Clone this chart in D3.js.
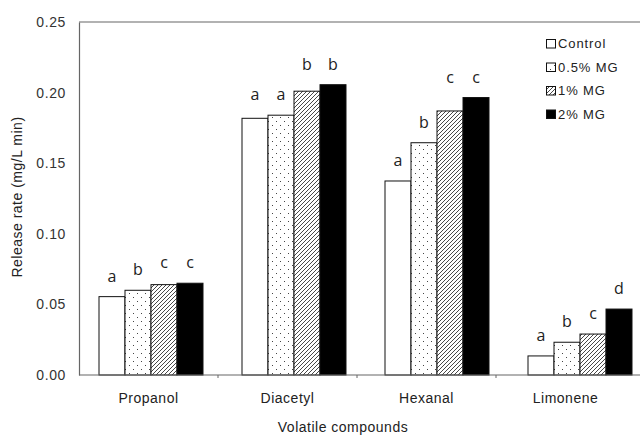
<!DOCTYPE html>
<html><head><meta charset="utf-8">
<script src="https://cdn.jsdelivr.net/npm/d3@7/dist/d3.min.js"></script>
<style>body{margin:0;background:#fff}svg{display:block}</style>
</head><body><svg id="c" width="640" height="436"></svg>
<script>
const categories = ["Propanol", "Diacetyl", "Hexanal", "Limonene"];
const seriesNames = ["Control", "0.5% MG", "1% MG", "2% MG"];
const control = [0.0555, 0.1818, 0.1374, 0.0135];
const mg05    = [0.0600, 0.1840, 0.1645, 0.0232];
const mg1     = [0.0640, 0.2010, 0.1870, 0.0290];
const mg2     = [0.0650, 0.2056, 0.1965, 0.0467];
const letters = [["a","b","c","c"],["a","a","b","b"],["a","b","c","c"],["a","b","c","d"]];
const yTicks = [0, 0.05, 0.10, 0.15, 0.20, 0.25];
const series = [control, mg05, mg1, mg2];

const svg = d3.select("#c");
const FONT = "Liberation Sans, Arial, sans-serif";
const L = 79, R = 635, T = 22, B = 375;
const y = d3.scaleLinear().domain([0, 0.25]).range([B, T]);
const xAxisScale = d3.scaleBand().domain(categories).range([L, R]);
const inner = 39/143;
const xGroup = d3.scaleBand().domain(categories).range([79.5, 79.5 + 4*143]).paddingInner(inner).paddingOuter(inner/2);
const xSub = d3.scaleBand().domain(seriesNames).range([0, xGroup.bandwidth()]);

const defs = svg.append("defs");
const dots = defs.append("pattern").attr("id","dots").attr("patternUnits","userSpaceOnUse").attr("width",8).attr("height",8);
dots.append("rect").attr("width",8).attr("height",8).attr("fill","#fff");
dots.append("rect").attr("x",2).attr("y",1).attr("width",1).attr("height",1).attr("fill","#444");
dots.append("rect").attr("x",6).attr("y",5).attr("width",1).attr("height",1).attr("fill","#444");
const hatch = defs.append("pattern").attr("id","hatch").attr("patternUnits","userSpaceOnUse").attr("width",4).attr("height",4);
hatch.append("rect").attr("width",4).attr("height",4).attr("fill","#fff");
hatch.append("path").attr("d","M-1,1 l2,-2 M0,4 l4,-4 M3,5 l2,-2").attr("stroke","#333").attr("stroke-width",0.9);
const fills = ["#fff", "url(#dots)", "url(#hatch)", "#000"];

// frame top line
svg.append("line").attr("x1",L).attr("x2",640).attr("y1",T).attr("y2",T).attr("stroke","#666").attr("stroke-width",1.2);

// y axis
const yAxis = d3.axisLeft(y).tickValues(yTicks).tickFormat(d3.format(".2f")).tickSize(0).tickPadding(13);
const ya = svg.append("g").attr("transform",`translate(${L},0)`).call(yAxis);
ya.select(".domain").attr("stroke","#666").attr("stroke-width",1.2);
ya.selectAll("text").attr("font-family",FONT).attr("font-size",14).attr("letter-spacing",0.6).attr("fill","#333");

// bars
categories.forEach((cat, ci) => {
  const g = svg.append("g").attr("transform",`translate(${xGroup(cat)},0)`);
  seriesNames.forEach((s, si) => {
    const v = series[si][ci];
    g.append("rect").attr("x", xSub(s)).attr("y", y(v)).attr("width", xSub.bandwidth()).attr("height", B - y(v))
      .attr("fill", fills[si]).attr("stroke","#111").attr("stroke-width",1);
    // letters shared within a group sit at the level of the tallest bar carrying that letter
    const lv = d3.max(seriesNames.map((_, k) => letters[ci][k] === letters[ci][si] ? series[k][ci] : 0));
    g.append("text").attr("x", xSub(s) + xSub.bandwidth()/2).attr("y", y(lv) - 15)
      .attr("text-anchor","middle").attr("font-family","Open Sans, sans-serif").attr("font-size",16).attr("fill","#222").text(letters[ci][si]);
  });
});

// x axis
const xAxis = d3.axisBottom(xAxisScale).tickSize(0).tickPadding(18);
const xa = svg.append("g").attr("transform",`translate(0,${B})`).call(xAxis);
xa.select(".domain").remove();
xa.append("line").attr("x1",L).attr("x2",640).attr("stroke","#666").attr("stroke-width",1.2);
xa.selectAll(".bt").data(categories.slice(1)).enter().append("line")
  .attr("x1", d => xAxisScale(d)).attr("x2", d => xAxisScale(d)).attr("y1",0).attr("y2",3).attr("stroke","#666");
xa.selectAll("text").attr("font-family",FONT).attr("font-size",14).attr("letter-spacing",0.5).attr("fill","#222");

// axis titles
svg.append("text").attr("x",343).attr("y",432).attr("text-anchor","middle")
  .attr("font-family",FONT).attr("font-size",14).attr("letter-spacing",0.5).attr("fill","#222").text("Volatile compounds");
svg.append("text").attr("transform","translate(22,197) rotate(-90)").attr("text-anchor","middle")
  .attr("font-family",FONT).attr("font-size",14).attr("letter-spacing",0.5).attr("fill","#222").text("Release rate (mg/L min)");

// legend
const lg = svg.append("g");
seriesNames.forEach((s, i) => {
  const yy = 48 + i*23.5;
  lg.append("rect").attr("x",546.5).attr("y",yy-8.5).attr("width",9).attr("height",8.5).attr("fill",fills[i]).attr("stroke","#111");
  lg.append("text").attr("x",558).attr("y",yy).attr("font-family",FONT).attr("font-size",13).attr("letter-spacing",0.9).attr("fill","#222").text(s);
});
</script></body></html>
